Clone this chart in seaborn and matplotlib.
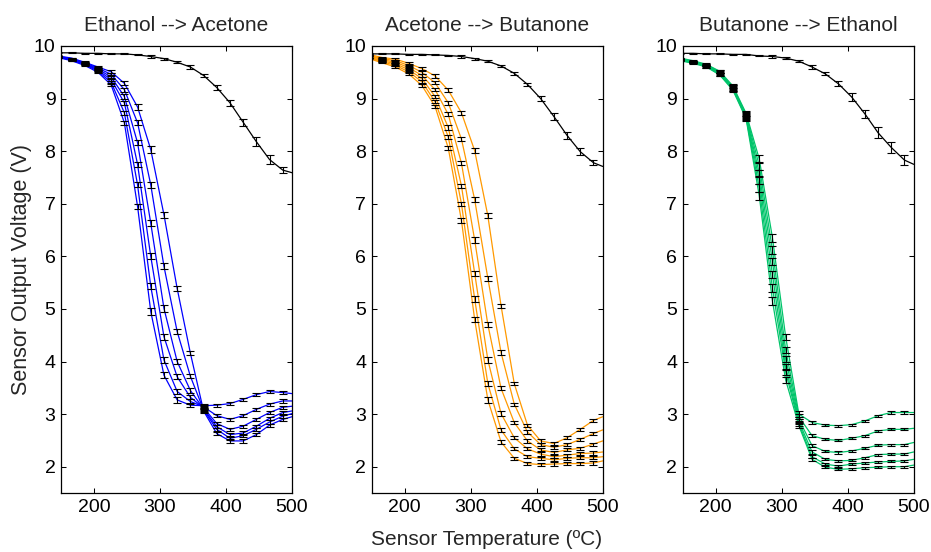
import numpy as np
import pandas as pd
import matplotlib
matplotlib.use('Agg')
import matplotlib.pyplot as plt
import seaborn as sns

# Temperaturas (ºC) - ultimo valor e so o fim da linha, sem barra de erro
temps = [146, 166, 186, 206, 226, 246, 266, 286, 306, 326, 346, 366, 386, 406, 426, 446, 466, 486, 500]

# Curva de referencia (ar) em cada painel
air_1 = [9.87, 9.87, 9.86, 9.86, 9.85, 9.85, 9.83, 9.80, 9.76, 9.69, 9.60, 9.44, 9.21, 8.92, 8.55, 8.18, 7.84, 7.64, 7.59]
air_2 = [9.85, 9.85, 9.85, 9.84, 9.84, 9.83, 9.82, 9.80, 9.76, 9.71, 9.62, 9.48, 9.27, 9.00, 8.66, 8.30, 7.99, 7.78, 7.71]
air_3 = [9.86, 9.86, 9.85, 9.85, 9.84, 9.84, 9.81, 9.80, 9.77, 9.71, 9.60, 9.47, 9.28, 9.03, 8.71, 8.35, 8.07, 7.83, 7.75]
air_err_1 = [0.01, 0.01, 0.01, 0.01, 0.01, 0.01, 0.01, 0.02, 0.02, 0.02, 0.03, 0.03, 0.04, 0.06, 0.07, 0.08, 0.08, 0.06]
air_err_2 = [0.01, 0.01, 0.01, 0.01, 0.01, 0.01, 0.01, 0.02, 0.02, 0.02, 0.02, 0.03, 0.03, 0.05, 0.06, 0.07, 0.07, 0.05]
air_err_3 = [0.01, 0.01, 0.01, 0.01, 0.01, 0.01, 0.01, 0.02, 0.02, 0.02, 0.03, 0.03, 0.05, 0.07, 0.08, 0.10, 0.10, 0.09]

# Ethanol --> Acetone (6 misturas)
eth_ace = [
    [9.78, 9.72, 9.63, 9.50, 9.26, 8.54, 6.95, 4.95, 3.74, 3.27, 3.17, 3.16, 3.17, 3.20, 3.28, 3.37, 3.43, 3.41, 3.39],
    [9.79, 9.73, 9.65, 9.52, 9.31, 8.73, 7.36, 5.43, 4.03, 3.43, 3.24, 3.14, 2.97, 2.90, 2.97, 3.09, 3.19, 3.25, 3.25],
    [9.79, 9.74, 9.66, 9.54, 9.36, 8.92, 7.75, 6.00, 4.47, 3.71, 3.32, 3.12, 2.82, 2.71, 2.77, 2.90, 3.03, 3.13, 3.15],
    [9.80, 9.75, 9.67, 9.56, 9.41, 9.04, 8.16, 6.63, 5.01, 4.00, 3.45, 3.10, 2.76, 2.61, 2.64, 2.77, 2.92, 3.03, 3.06],
    [9.80, 9.76, 9.68, 9.58, 9.46, 9.17, 8.54, 7.36, 5.81, 4.57, 3.72, 3.08, 2.71, 2.54, 2.59, 2.71, 2.85, 2.96, 3.01],
    [9.81, 9.77, 9.69, 9.60, 9.51, 9.29, 8.84, 8.03, 6.79, 5.39, 4.16, 3.06, 2.63, 2.49, 2.49, 2.61, 2.79, 2.90, 2.95],
]
eth_ace_err = [0.01, 0.01, 0.02, 0.02, 0.03, 0.04, 0.05, 0.06, 0.06, 0.05, 0.04, 0.04, 0.03, 0.03, 0.03, 0.03, 0.03, 0.03]

# Acetone --> Butanone
ace_but = [
    [9.76, 9.68, 9.60, 9.47, 9.25, 8.85, 8.06, 6.68, 4.80, 3.27, 2.47, 2.16, 2.06, 2.04, 2.05, 2.06, 2.06, 2.07, 2.11],
    [9.78, 9.70, 9.63, 9.51, 9.32, 8.94, 8.27, 7.00, 5.19, 3.58, 2.70, 2.34, 2.19, 2.16, 2.13, 2.16, 2.17, 2.17, 2.19],
    [9.79, 9.72, 9.66, 9.55, 9.38, 9.04, 8.45, 7.34, 5.68, 4.03, 3.01, 2.55, 2.34, 2.24, 2.19, 2.22, 2.25, 2.26, 2.28],
    [9.81, 9.74, 9.69, 9.59, 9.44, 9.17, 8.70, 7.77, 6.31, 4.70, 3.49, 2.84, 2.49, 2.32, 2.27, 2.32, 2.35, 2.43, 2.49],
    [9.82, 9.76, 9.72, 9.63, 9.50, 9.30, 8.92, 8.23, 7.08, 5.58, 4.17, 3.19, 2.66, 2.42, 2.37, 2.42, 2.52, 2.63, 2.70],
    [9.84, 9.78, 9.75, 9.67, 9.57, 9.43, 9.16, 8.73, 8.01, 6.77, 5.06, 3.58, 2.79, 2.49, 2.44, 2.55, 2.71, 2.88, 2.95],
]
ace_but_err = [0.01, 0.01, 0.02, 0.03, 0.03, 0.03, 0.04, 0.04, 0.05, 0.05, 0.04, 0.03, 0.03, 0.03, 0.03, 0.03, 0.03, 0.03]

# Butanone --> Ethanol
but_eth = [
    [9.72, 9.67, 9.60, 9.45, 9.16, 8.62, 7.15, 5.15, 3.65, 2.78, 2.14, 1.99, 1.95, 1.96, 1.98, 1.99, 2.00, 2.00, 2.03],
    [9.73, 9.68, 9.61, 9.46, 9.18, 8.64, 7.30, 5.40, 3.80, 2.82, 2.19, 2.05, 2.01, 2.05, 2.07, 2.09, 2.10, 2.11, 2.14],
    [9.74, 9.69, 9.62, 9.48, 9.19, 8.66, 7.45, 5.65, 3.90, 2.86, 2.28, 2.14, 2.11, 2.12, 2.17, 2.23, 2.24, 2.24, 2.28],
    [9.75, 9.70, 9.63, 9.49, 9.21, 8.68, 7.58, 5.90, 4.05, 2.90, 2.40, 2.29, 2.27, 2.30, 2.35, 2.41, 2.42, 2.42, 2.46],
    [9.76, 9.71, 9.64, 9.51, 9.22, 8.70, 7.72, 6.12, 4.22, 2.95, 2.59, 2.52, 2.50, 2.54, 2.59, 2.68, 2.71, 2.71, 2.73],
    [9.77, 9.72, 9.65, 9.52, 9.24, 8.72, 7.85, 6.35, 4.47, 3.00, 2.84, 2.79, 2.78, 2.80, 2.87, 2.97, 3.03, 3.03, 3.03],
]
but_eth_err = [0.01, 0.01, 0.02, 0.03, 0.04, 0.05, 0.07, 0.07, 0.06, 0.05, 0.03, 0.02, 0.02, 0.02, 0.02, 0.02, 0.02, 0.02]

titles = ['Ethanol --> Acetone', 'Acetone --> Butanone', 'Butanone --> Ethanol']
cores = ['#0000ff', '#ff9900', '#00c46a']

sns.set_style('ticks')
plt.rcParams['font.family'] = ['Liberation Sans', 'DejaVu Sans']

fig = plt.figure(figsize=(9.31, 5.52), dpi=100)
lefts = [61 / 931, 371.7 / 931, 682.7 / 931]
paineis = [(eth_ace, eth_ace_err, air_1, air_err_1),
           (ace_but, ace_but_err, air_2, air_err_2),
           (but_eth, but_eth_err, air_3, air_err_3)]

for i, (curvas, err, ar, ar_err) in enumerate(paineis):
    ax = fig.add_axes([lefts[i], 0.1069, 231 / 931, 0.8098])
    for c in curvas:
        sns.lineplot(x=temps, y=c, ax=ax, color=cores[i], linewidth=0.9,
                     estimator=None, sort=False, zorder=2)
    for c in curvas:
        ax.errorbar(temps[:-1], c[:-1], yerr=err, fmt='none', ecolor='k',
                    elinewidth=0.8, capsize=2.6, capthick=0.8, zorder=3)
    sns.lineplot(x=temps, y=ar, ax=ax, color='k', linewidth=0.9,
                 estimator=None, sort=False, zorder=2)
    ax.errorbar(temps[:-1], ar[:-1], yerr=ar_err, fmt='none', ecolor='k',
                elinewidth=0.8, capsize=2.6, capthick=0.8, zorder=3)

    ax.set_xlim(150, 500)
    ax.set_ylim(1.5, 10)
    ax.set_xticks([200, 300, 400, 500])
    ax.set_yticks([2, 3, 4, 5, 6, 7, 8, 9, 10])
    ax.tick_params(direction='in', top=True, right=True, length=3.5, width=0.75,
                   labelsize=14, pad=4, colors='k')
    for s in ax.spines.values():
        s.set_visible(True)
        s.set_linewidth(0.9)
        s.set_color('k')
    ax.set_xlabel('')
    ax.set_ylabel('')
    ax.set_title(titles[i], fontsize=15, pad=11)

fig.text(22 / 931, 0.5118, 'Sensor Output Voltage (V)', rotation=90,
         ha='center', va='center', fontsize=15.5)
fig.text(0.523, 0.022, 'Sensor Temperature (ºC)', ha='center', va='center', fontsize=15)

fig.savefig('out.png', dpi=100)
